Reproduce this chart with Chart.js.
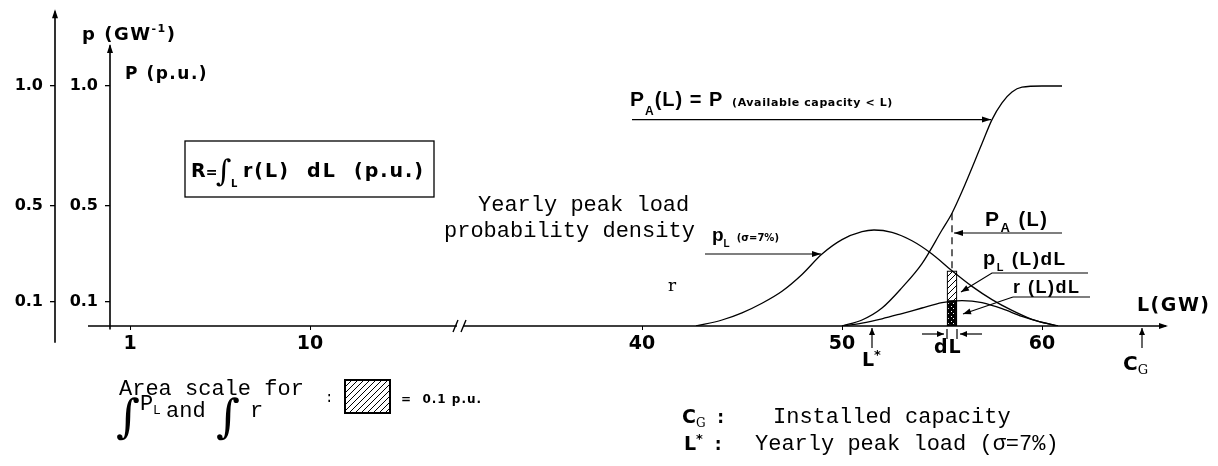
<!DOCTYPE html>
<html>
<head>
<meta charset="utf-8">
<script src="https://cdn.jsdelivr.net/npm/chart.js@4.4.0/dist/chart.umd.min.js"></script>
<style>
  html, body { margin: 0; padding: 0; background: #fff; }
  #wrap { width: 1218px; height: 466px; position: relative; }
</style>
</head>
<body>
<div id="wrap"><canvas id="reliabilityChart"></canvas></div>
<script>
// Load axis is broken between ~17.5 and ~30.9 GW; everything above the break is shifted left
const breakShift = 13.4;
const gw = L => (L < 25 ? L : L - breakShift);

const xTickGW = [1, 10, 40, 50, 60];
const yTicks = [0.1, 0.5, 1.0];

// yearly peak load probability density p_L (GW^-1), sigma = 7%
const loadGW  = [42.7, 44, 45, 46, 47, 48, 49, 50, 51, 51.6, 52.5, 53.5, 54.5, 55.5, 56.5, 57.5, 58.5, 59.5, 60.8];
const loadPdf = [0, 0.025, 0.055, 0.095, 0.145, 0.215, 0.30, 0.36, 0.393, 0.40, 0.39, 0.355, 0.30, 0.23, 0.165, 0.11, 0.065, 0.028, 0];

// P_A(L): probability that available capacity < L
const capGW  = [50, 51, 52, 53, 54, 55, 55.5, 56, 57, 57.5, 58, 58.5, 59, 60, 61];
const capCdf = [0, 0.025, 0.075, 0.16, 0.26, 0.40, 0.47, 0.56, 0.76, 0.86, 0.93, 0.975, 0.995, 1.0, 1.0];

// r(L) = risk density
const riskGW  = [50, 51, 52, 53, 54, 55, 55.5, 56, 56.5, 57, 58, 59, 60, 60.8];
const riskPdf = [0, 0.012, 0.03, 0.052, 0.075, 0.097, 0.104, 0.106, 0.104, 0.097, 0.072, 0.04, 0.015, 0];

// the dL strip and the two marked loads
const stripGW = 55.5;
const stripHalf = 0.25;
const peakLoadGW = 51.5;     // L*
const installedGW = 65;      // C_G

const stripLoad = loadPdf[loadGW.indexOf(stripGW)];
const stripRisk = riskPdf[riskGW.indexOf(stripGW)];
const stripCap  = capCdf[capGW.indexOf(stripGW)];

const pts = (xs, ys) => xs.map((L, i) => ({ x: gw(L), y: ys[i] }));

// fill patterns for the strip and the area-scale key
function makePattern(size, paint) {
  const c = document.createElement('canvas');
  c.width = c.height = size;
  const g = c.getContext('2d');
  paint(g, size);
  return g.createPattern(c, 'repeat');
}
const hatch = makePattern(6, (g, s) => {
  g.fillStyle = '#fff'; g.fillRect(0, 0, s, s);
  g.strokeStyle = '#000'; g.lineWidth = 1;
  g.beginPath();
  g.moveTo(-1, s + 1); g.lineTo(s + 1, -1);
  g.moveTo(-1, 1); g.lineTo(1, -1);
  g.moveTo(s - 1, s + 1); g.lineTo(s + 1, s - 1);
  g.stroke();
});
const stipple = makePattern(5, (g, s) => {
  g.fillStyle = '#000'; g.fillRect(0, 0, s, s);
  g.fillStyle = '#fff';
  g.fillRect(1, 1, 1, 1); g.fillRect(3, 3, 1, 1);
});

const SANS = '"DejaVu Sans", sans-serif';
const bold = s => `bold ${s}px ${SANS}`;
const arial = s => `bold ${s}px "Liberation Sans", Arial, sans-serif`;
const mono = s => `${s}px "Liberation Mono", monospace`;
const serif = (s, style = '') => `${style} ${s}px "DejaVu Serif", serif`;

// draw text pieces one after another, each with its own font and vertical shift
function runs(ctx, x, y, parts, ls = '0px') {
  ctx.letterSpacing = ls;
  for (const [t, f, dy = 0] of parts) {
    ctx.font = f;
    ctx.fillText(t, x, y + dy);
    x += ctx.measureText(t).width;
  }
  ctx.letterSpacing = '0px';
  return x;
}

function head(ctx, x, y, ang, len = 8, w = 3) {
  ctx.beginPath();
  ctx.moveTo(x, y);
  ctx.lineTo(x - len * Math.cos(ang) + w * Math.sin(ang), y - len * Math.sin(ang) - w * Math.cos(ang));
  ctx.lineTo(x - len * Math.cos(ang) - w * Math.sin(ang), y - len * Math.sin(ang) + w * Math.cos(ang));
  ctx.closePath();
  ctx.fill();
}

// polyline ending in an arrowhead
function arrow(ctx, points, len, w) {
  ctx.beginPath();
  points.forEach(([x, y], i) => (i ? ctx.lineTo(x, y) : ctx.moveTo(x, y)));
  ctx.stroke();
  const [x1, y1] = points[points.length - 2];
  const [x2, y2] = points[points.length - 1];
  head(ctx, x2, y2, Math.atan2(y2 - y1, x2 - x1), len, w);
}

const figureNotes = {
  id: 'figureNotes',
  afterDraw(chart) {
    const ctx = chart.ctx;
    const xs = chart.scales.x, ys = chart.scales.y;
    const X = L => xs.getPixelForValue(gw(L));
    const Y = v => ys.getPixelForValue(v);
    const y0 = Y(0);
    ctx.save();
    ctx.strokeStyle = '#000';
    ctx.fillStyle = '#000';
    ctx.lineWidth = 1.4;
    ctx.textBaseline = 'alphabetic';

    // L axis, with the break mark
    const xBreak = xs.getPixelForValue(17.5);
    ctx.beginPath();
    ctx.moveTo(X(-1.1), y0); ctx.lineTo(xBreak - 3, y0);
    ctx.moveTo(xBreak + 3, y0); ctx.lineTo(X(66.2), y0);
    ctx.stroke();
    head(ctx, X(66.3), y0, 0, 9, 3);
    ctx.beginPath();
    ctx.moveTo(xBreak - 7, y0 + 6); ctx.lineTo(xBreak - 2, y0 - 6);
    ctx.moveTo(xBreak + 1, y0 + 6); ctx.lineTo(xBreak + 6, y0 - 6);
    ctx.stroke();

    // the two vertical axes
    const xIn = ys.right, xOut = chart.scales.y2.right;
    ctx.lineWidth = 1.6;
    ctx.beginPath();
    ctx.moveTo(xIn, Y(-0.015)); ctx.lineTo(xIn, Y(1.17));
    ctx.moveTo(xOut, Y(-0.07)); ctx.lineTo(xOut, Y(1.31));
    ctx.stroke();
    head(ctx, xIn, Y(1.175), -Math.PI / 2, 9, 3);
    head(ctx, xOut, Y(1.32), -Math.PI / 2, 9, 3);
    ctx.lineWidth = 1.2;

    runs(ctx, 82, 40, [['p (GW', bold(18)], ['-1', bold(11), -8], [')', bold(18)]], '1.5px');
    runs(ctx, 125, 79, [['P (p.u.)', bold(17)]], '1.5px');

    // reliability box
    ctx.lineWidth = 1.3;
    ctx.strokeRect(185, 141, 249, 56);
    runs(ctx, 191, 177, [['R', bold(19)], ['=', bold(14)]]);
    ctx.font = serif(30, 'italic');
    ctx.fillText('\u222B', 216, 181);
    runs(ctx, 231, 187, [['L', bold(10)]]);
    runs(ctx, 243, 177, [['r(L)  dL  (p.u.)', bold(19)]], '2px');

    // P_A(L) = P
    runs(ctx, 630, 106, [['P', arial(21)], ['A', arial(12), 9], ['(L) = P', arial(20)]], '1px');
    runs(ctx, 732, 106, [['(Available capacity < L)', bold(11)]], '0.6px');
    const iTop = capGW.indexOf(57.5);
    ctx.lineWidth = 1.2;
    arrow(ctx, [[632, Y(capCdf[iTop])], [X(capGW[iTop]) - 1, Y(capCdf[iTop])]], 9, 3);

    // yearly peak load density label
    ctx.font = mono(22);
    ctx.fillText('Yearly peak load', 478, 211);
    ctx.fillText('probability density', 444, 237);
    runs(ctx, 712, 241, [['p', arial(19)], ['L', arial(10), 6], ['  (\u03C3=7%)', bold(10)]]);
    const iL = loadGW.indexOf(49);
    arrow(ctx, [[705, Y(loadPdf[iL])], [X(loadGW[iL]) - 1, Y(loadPdf[iL])]], 9, 3);

    ctx.font = serif(17);
    ctx.fillText('r', 668, 291);

    // labels around the dL strip
    const xs0 = X(stripGW - stripHalf), xs1 = X(stripGW + stripHalf), xm = X(stripGW);
    runs(ctx, 985, 226, [['P', arial(21)], ['A', arial(13), 6], [' (L)', arial(20)]], '1.5px');
    arrow(ctx, [[1062, 233], [xm + 2, 233]], 9, 3);

    runs(ctx, 983, 265, [['p', arial(20)], ['L', arial(11), 6], [' (L)dL', arial(19)]], '1.5px');
    arrow(ctx, [[1088, 273], [992, 273], [xs1 + 4, 292]], 8, 3);

    runs(ctx, 1013, 293, [['r (L)dL', arial(18)]], '1.5px');
    ctx.beginPath(); ctx.moveTo(1013, 297); ctx.lineTo(1090, 297); ctx.stroke();
    arrow(ctx, [[1013, 297], [xs1 + 6, 314]], 8, 3);

    runs(ctx, 1137, 311, [['L(GW)', bold(19)]], '1.5px');

    // dL marks under the strip
    ctx.beginPath();
    ctx.moveTo(xs0, y0 + 3); ctx.lineTo(xs0, y0 + 13);
    ctx.moveTo(xs1, y0 + 3); ctx.lineTo(xs1, y0 + 13);
    ctx.stroke();
    arrow(ctx, [[xs0 - 25, y0 + 8], [xs0 - 3, y0 + 8]], 7, 3);
    arrow(ctx, [[xs1 + 25, y0 + 8], [xs1 + 3, y0 + 8]], 7, 3);
    runs(ctx, xm - 18, 353, [['dL', bold(19)]], '1px');

    // L* and C_G markers
    arrow(ctx, [[X(peakLoadGW), y0 + 22], [X(peakLoadGW), y0 + 2]], 7, 3);
    runs(ctx, X(peakLoadGW) - 10, 366, [['L', bold(19)], ['*', bold(13), -7]]);
    arrow(ctx, [[X(installedGW), y0 + 22], [X(installedGW), y0 + 2]], 7, 3);
    runs(ctx, X(installedGW) - 19, 370, [['C', bold(20)], ['G', serif(13), 4]]);

    // area scale key
    ctx.font = mono(22);
    ctx.fillText('Area scale for', 119, 395);
    ctx.font = serif(46, 'italic');
    ctx.fillText('\u222B', 116, 432);
    ctx.fillText('\u222B', 216, 432);
    ctx.font = mono(22);
    ctx.fillText('P', 140, 410);
    ctx.font = mono(13);
    ctx.fillText('L', 153, 414);
    ctx.font = mono(22);
    ctx.fillText('and', 166, 417);
    ctx.fillText('r', 250, 417);
    ctx.font = mono(14);
    ctx.fillText(':', 325, 402);
    ctx.fillStyle = hatch;
    ctx.fillRect(345, 380, 45, 33);
    ctx.fillStyle = '#000';
    ctx.lineWidth = 2;
    ctx.strokeRect(345, 380, 45, 33);
    runs(ctx, 401, 403, [['=  0.1 p.u.', bold(12)]], '1px');

    // notes
    runs(ctx, 682, 423, [['C', bold(19)], ['G', serif(12), 4], ['  :', bold(17)]]);
    ctx.font = mono(22);
    ctx.fillText('Installed capacity', 773, 423);
    runs(ctx, 684, 450, [['L', bold(19)], ['*', bold(13), -7], ['  :', bold(17)]]);
    ctx.font = mono(22);
    ctx.fillText('Yearly peak load (\u03C3=7%)', 755, 450);

    ctx.restore();
  }
};

const curve = {
  borderColor: '#000',
  borderWidth: 1.3,
  pointRadius: 0,
  fill: false,
  cubicInterpolationMode: 'monotone'
};

const yAxis = (width, weight) => ({
  type: 'linear',
  position: 'left',
  weight: weight,
  min: 0,
  max: 4 / 3,
  afterFit: s => {
    s.width = width;
    // no extra room for half tick labels: the plot keeps 240 px per unit
    s.paddingTop = 0;
    s.paddingBottom = 0;
  },
  afterBuildTicks: s => { s.ticks = yTicks.map(v => ({ value: v })); },
  ticks: {
    callback: v => v.toFixed(1),
    color: '#000',
    padding: 7,
    font: { family: 'DejaVu Sans', weight: 'bold', size: 16 }
  },
  grid: { drawOnChartArea: false, tickLength: 5, color: '#000', lineWidth: 1.3 },
  border: { display: false }
});

new Chart(document.getElementById('reliabilityChart'), {
  type: 'line',
  data: {
    datasets: [
      { label: 'P_A', data: pts(capGW, capCdf), ...curve },
      { label: 'p_L', data: pts(loadGW, loadPdf), ...curve },
      { label: 'r', data: pts(riskGW, riskPdf), ...curve },
      {
        type: 'bar', label: 'r dL', grouped: false,
        data: [{ x: gw(stripGW), y: [0, stripRisk] }],
        backgroundColor: stipple, borderColor: '#000', borderWidth: 1.5,
        borderSkipped: false, barThickness: 10
      },
      {
        type: 'bar', label: 'p_L dL', grouped: false,
        data: [{ x: gw(stripGW), y: [stripRisk, stripLoad] }],
        backgroundColor: hatch, borderColor: '#000', borderWidth: 1.2,
        borderSkipped: false, barThickness: 10
      },
      {
        label: 'P_A at L', data: [{ x: gw(stripGW), y: stripCap }, { x: gw(stripGW), y: 0 }],
        borderColor: '#000', borderWidth: 1.2, borderDash: [7, 5], pointRadius: 0, fill: false
      }
    ]
  },
  options: {
    responsive: true,
    maintainAspectRatio: false,
    animation: false,
    layout: { padding: { top: 6, right: 8, left: 0, bottom: 0 } },
    plugins: { legend: { display: false }, tooltip: { enabled: false } },
    scales: {
      x: {
        type: 'linear',
        position: 'bottom',
        min: 0,
        max: 55,
        offset: false,
        afterFit: s => { s.height = 140; },
        afterBuildTicks: s => { s.ticks = xTickGW.map(L => ({ value: gw(L) })); },
        ticks: {
          callback: v => xTickGW.find(L => Math.abs(gw(L) - v) < 1e-6),
          color: '#000',
          padding: 3,
          maxRotation: 0,
          font: { family: 'DejaVu Sans', weight: 'bold', size: 19 }
        },
        grid: { offset: false, drawOnChartArea: false, tickLength: 4, color: '#000' },
        border: { display: false }
      },
      y2: yAxis(55, 2),
      y: yAxis(55, 1)
    }
  },
  plugins: [figureNotes]
});
</script>
</body>
</html>
